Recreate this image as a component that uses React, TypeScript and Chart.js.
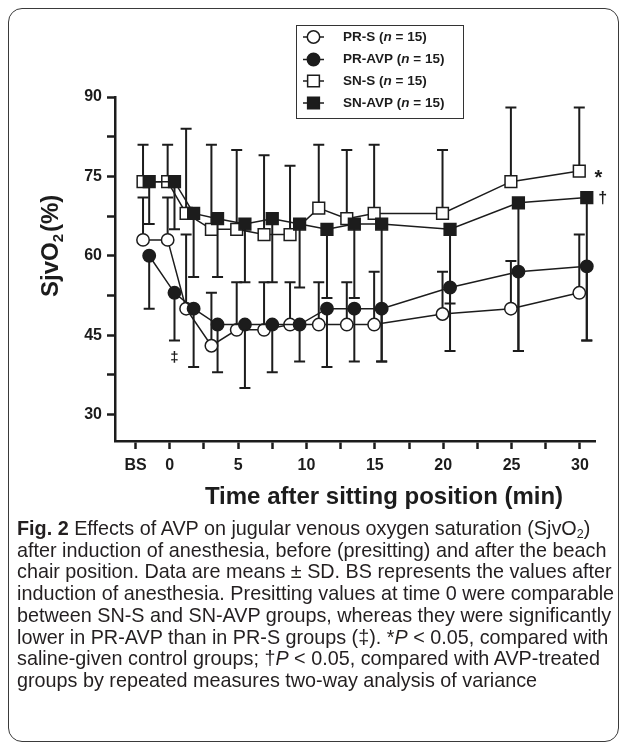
import React, { useEffect, useRef } from "react";
import { Chart, registerables } from "chart.js";

Chart.register(...registerables);

// ---- data ----
const salineTimes = [-1.95, -0.15, 1.2, 3.05, 4.9, 6.9, 8.8, 10.9, 12.95, 14.95, 19.95, 24.95, 29.95];
const avpTimes = [-1.5, 0.35, 1.75, 3.5, 5.5, 7.5, 9.5, 11.5, 13.5, 15.5, 20.5, 25.5, 30.5];

const prSMean = [63, 63, 50, 43, 46, 46, 47, 47, 47, 47, 49, 50, 53];
const prSUpper = [71, 71, 64, 53, 55, 55, 55, 55, 55, 57, 57, 59, 64];
const prAvpMean = [60, 53, 50, 47, 47, 47, 47, 50, 50, 50, 54, 57, 58];
const prAvpLower = [50, 44, 39, 38, 35, 38, 40, 39, 40, 40, 42, 42, 44];
const snSMean = [74, 74, 68, 65, 65, 64, 64, 69, 67, 68, 68, 74, 76];
const snSUpper = [81, 81, 84, 81, 80, 79, 77, 81, 80, 81, 80, 88, 88];
const snAvpMean = [74, 74, 68, 67, 66, 67, 66, 65, 66, 66, 65, 70, 71];
const snAvpLower = [66, 65, 56, 56, 55, 55, 54, 52, 52, 40, 51, 42, 44];

const xTickValues = [-2.5, 0, 2.5, 5, 7.5, 10, 12.5, 15, 17.5, 20, 22.5, 25, 27.5, 30];
const xTickLabels = ["BS", "0", "", "5", "", "10", "", "15", "", "20", "", "25", "", "30"];
const yTickValues = [30, 37.5, 45, 52.5, 60, 67.5, 75, 82.5, 90];
const yTickLabels = ["30", "", "45", "", "60", "", "75", "", "90"];

const seriesNames = ["PR-S", "PR-AVP", "SN-S", "SN-AVP"];
const groupN = "15";

const INK = "#1c1c1c";
const FONT = '"Liberation Sans", Arial, Helvetica, sans-serif';

const CIRCLE_R = 6.2;
const SQUARE_R = 8.3;

function drawMarker(ctx: CanvasRenderingContext2D, style: string, filled: boolean, x: number, y: number) {
  ctx.save();
  ctx.lineWidth = 1.5;
  ctx.strokeStyle = INK;
  ctx.fillStyle = filled ? INK : "#ffffff";
  ctx.beginPath();
  if (style === "circle") {
    ctx.arc(x, y, CIRCLE_R, 0, Math.PI * 2);
  } else {
    const s = Math.SQRT1_2 * SQUARE_R;
    ctx.rect(x - s, y - s, 2 * s, 2 * s);
  }
  ctx.fill();
  ctx.stroke();
  ctx.restore();
}

const errorBarPlugin = {
  id: "errorBars",
  beforeDatasetsDraw(chart: any) {
    const { ctx, scales } = chart;
    const xs = scales.x;
    const ys = scales.y;
    ctx.save();
    ctx.strokeStyle = INK;
    ctx.lineWidth = 2;
    chart.data.datasets.forEach((ds: any) => {
      const bounds: number[] = ds.errorBounds;
      ds.data.forEach((pt: any, i: number) => {
        const px = xs.getPixelForValue(pt.x);
        const p0 = ys.getPixelForValue(pt.y);
        const p1 = ys.getPixelForValue(bounds[i]);
        ctx.beginPath();
        ctx.moveTo(px, p0);
        ctx.lineTo(px, p1);
        ctx.moveTo(px - 5.5, p1);
        ctx.lineTo(px + 5.5, p1);
        ctx.stroke();
      });
    });
    ctx.restore();
  },
};

const decorPlugin = {
  id: "decor",
  afterDraw(chart: any) {
    const { ctx, scales } = chart;
    const xs = scales.x;
    const ys = scales.y;
    ctx.save();
    ctx.fillStyle = INK;

    // y-axis title
    ctx.save();
    ctx.translate(50, 289);
    ctx.rotate(-Math.PI / 2);
    ctx.textAlign = "left";
    ctx.textBaseline = "alphabetic";
    ctx.font = `bold 24px ${FONT}`;
    ctx.fillText("SjvO", 0, 0);
    let w = ctx.measureText("SjvO").width;
    ctx.font = `bold 15px ${FONT}`;
    ctx.fillText("2", w, 5);
    w += ctx.measureText("2").width + 2;
    ctx.font = `bold 24px ${FONT}`;
    ctx.fillText("(%)", w, 0);
    ctx.restore();

    // x-axis title
    ctx.font = `bold 24px ${FONT}`;
    ctx.textAlign = "center";
    ctx.textBaseline = "middle";
    ctx.fillText("Time after sitting position (min)", 376, 489);

    // significance marks
    const last = salineTimes.length - 1;
    ctx.font = `bold 20px ${FONT}`;
    ctx.textAlign = "center";
    ctx.textBaseline = "alphabetic";
    ctx.fillText("*", xs.getPixelForValue(salineTimes[last]) + 19, ys.getPixelForValue(snSMean[last]) + 13);
    ctx.font = `bold 16px ${FONT}`;
    ctx.fillText("\u2020", xs.getPixelForValue(avpTimes[last]) + 16, ys.getPixelForValue(snAvpMean[last]) + 5);
    ctx.font = `bold 15px ${FONT}`;
    ctx.textBaseline = "middle";
    ctx.fillText("\u2021", xs.getPixelForValue(avpTimes[1]), ys.getPixelForValue(prAvpLower[1]) + 17);

    // legend
    ctx.strokeStyle = "#333";
    ctx.lineWidth = 1;
    ctx.strokeRect(288.5, 17.5, 167, 93);
    const styles = ["circle", "circle", "rect", "rect"];
    const fills = [false, true, false, true];
    const rowY = [29, 51.5, 73, 95];
    seriesNames.forEach((name, i) => {
      const y = rowY[i];
      ctx.strokeStyle = INK;
      ctx.lineWidth = 1.5;
      ctx.beginPath();
      ctx.moveTo(295, y);
      ctx.lineTo(316, y);
      ctx.stroke();
      drawMarker(ctx, styles[i], fills[i], 305.5, y);
      ctx.fillStyle = INK;
      ctx.textAlign = "left";
      ctx.textBaseline = "middle";
      let tx = 335;
      const parts: [string, string][] = [
        [`${name} (`, "bold"],
        ["n", "italic bold"],
        [` = ${groupN})`, "bold"],
      ];
      parts.forEach(([t, f]) => {
        ctx.font = `${f} 13.5px ${FONT}`;
        ctx.fillText(t, tx, y);
        tx += ctx.measureText(t).width;
      });
    });
    ctx.restore();
  },
};

export default function App() {
  const ref = useRef<HTMLCanvasElement>(null);

  useEffect(() => {
    const canvas = ref.current;
    if (!canvas) return;
    const mk = (label: string, times: number[], means: number[], bounds: number[], style: string, filled: boolean) => ({
      label,
      data: times.map((t, i) => ({ x: t, y: means[i] })),
      errorBounds: bounds,
      borderColor: INK,
      borderWidth: 1.5,
      pointStyle: style,
      pointRadius: style === "circle" ? CIRCLE_R : SQUARE_R,
      pointHoverRadius: style === "circle" ? CIRCLE_R : SQUARE_R,
      pointBackgroundColor: filled ? INK : "#ffffff",
      pointBorderColor: INK,
      pointBorderWidth: 1.5,
      fill: false,
      tension: 0,
      clip: false,
    });

    const tickFont = { family: FONT, size: 16, weight: "bold" as const };

    const chart = new Chart(canvas, {
      type: "line",
      data: {
        datasets: [
          mk(seriesNames[1], avpTimes, prAvpMean, prAvpLower, "circle", true),
          mk(seriesNames[3], avpTimes, snAvpMean, snAvpLower, "rect", true),
          mk(seriesNames[0], salineTimes, prSMean, prSUpper, "circle", false),
          mk(seriesNames[2], salineTimes, snSMean, snSUpper, "rect", false),
        ] as any,
      },
      options: {
        animation: false,
        responsive: false,
        events: [],
        layout: { padding: { left: 47, top: 89, right: 24, bottom: 37 } },
        plugins: {
          legend: { display: false },
          tooltip: { enabled: false },
        },
        scales: {
          x: {
            type: "linear",
            min: -4,
            max: 31.1,
            afterBuildTicks: (s: any) => {
              s.ticks = xTickValues.map((v) => ({ value: v }));
            },
            afterFit: (s: any) => {
              s.height = 40;
            },
            ticks: {
              autoSkip: false,
              maxRotation: 0,
              padding: 7,
              color: INK,
              font: tickFont,
              callback: (v: any) => xTickLabels[xTickValues.indexOf(Number(v))] ?? "",
            },
            grid: {
              display: true,
              drawOnChartArea: false,
              drawTicks: true,
              tickLength: 8,
              tickWidth: 2.5,
              tickColor: INK,
            },
            border: { display: true, width: 2.5, color: INK },
          },
          y: {
            type: "linear",
            min: 25,
            max: 90,
            afterBuildTicks: (s: any) => {
              s.ticks = yTickValues.map((v) => ({ value: v }));
            },
            afterFit: (s: any) => {
              s.width = 60;
            },
            ticks: {
              autoSkip: false,
              padding: 5,
              color: INK,
              font: tickFont,
              callback: (v: any) => yTickLabels[yTickValues.indexOf(Number(v))] ?? "",
            },
            grid: {
              display: true,
              drawOnChartArea: false,
              drawTicks: true,
              tickLength: 8,
              tickWidth: 2.5,
              tickColor: INK,
            },
            border: { display: true, width: 2.5, color: INK },
          },
        },
      } as any,
      plugins: [errorBarPlugin, decorPlugin],
    });
    return () => chart.destroy();
  }, []);

  const capStyle: React.CSSProperties = {
    position: "absolute",
    left: 9,
    top: 510,
    fontFamily: FONT,
    fontSize: 19.8,
    lineHeight: "21.7px",
    color: "#231f20",
    whiteSpace: "nowrap",
  };
  const sub: React.CSSProperties = { fontSize: 12.5, verticalAlign: "-3px", lineHeight: 0 };

  return (
    <div style={{ position: "relative", width: 611, height: 734 }}>
      <div
        style={{
          position: "absolute",
          inset: 0,
          border: "1.5px solid #3a3a3a",
          borderRadius: 14,
          boxSizing: "border-box",
        }}
      />
      <canvas ref={ref} width={611} height={510} style={{ position: "absolute", left: 0, top: 0 }} />
      <div style={capStyle}>
        <div>
          <b>Fig. 2</b> Effects of AVP on jugular venous oxygen saturation (SjvO<span style={sub}>2</span>)
        </div>
        <div>after induction of anesthesia, before (presitting) and after the beach</div>
        <div>chair position. Data are means ± SD. BS represents the values after</div>
        <div>induction of anesthesia. Presitting values at time 0 were comparable</div>
        <div>between SN-S and SN-AVP groups, whereas they were significantly</div>
        <div>
          lower in PR-AVP than in PR-S groups (‡). *<i>P</i> &lt; 0.05, compared with
        </div>
        <div>
          saline-given control groups; †<i>P</i> &lt; 0.05, compared with AVP-treated
        </div>
        <div>groups by repeated measures two-way analysis of variance</div>
      </div>
    </div>
  );
}
